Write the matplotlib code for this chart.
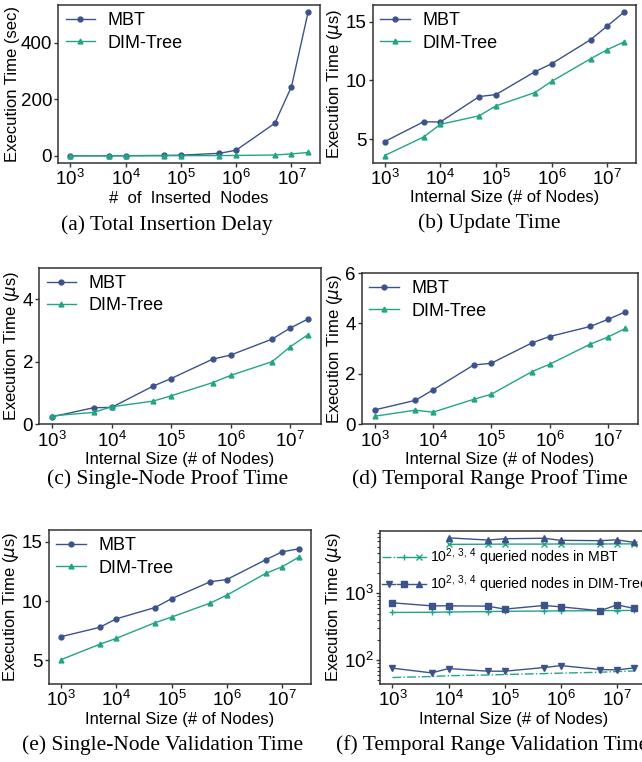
import matplotlib
matplotlib.use("Agg")
import matplotlib.pyplot as plt
from matplotlib.legend_handler import HandlerTuple
from matplotlib.ticker import NullLocator, NullFormatter

plt.rcParams['font.family'] = ['Liberation Sans', 'DejaVu Sans']
plt.rcParams['mathtext.fontset'] = 'dejavusans'

# node counts on the x axis
sizes = [1e3, 5e3, 1e4, 5e4, 1e5, 5e5, 1e6, 5e6, 1e7, 2e7]
sizes_big = sizes[2:]
decades = [1e3, 1e4, 1e5, 1e6, 1e7]

# (a) total insertion delay (sec)
ins_mbt = [0.3, 0.5, 0.7, 1.5, 2.5, 9, 20, 115, 244, 507]
ins_dim = [0.2, 0.3, 0.4, 0.6, 0.8, 1.0, 1.5, 3.0, 7.0, 12]
# (b) update time (us)
upd_mbt = [4.78, 6.47, 6.45, 8.62, 8.79, 10.74, 11.42, 13.47, 14.64, 15.82]
upd_dim = [3.59, 5.17, 6.25, 6.98, 7.83, 8.96, 9.92, 11.84, 12.63, 13.28]
# (c) single-node proof time (us)
spf_mbt = [0.24, 0.53, 0.54, 1.22, 1.46, 2.08, 2.21, 2.72, 3.07, 3.36]
spf_dim = [0.27, 0.38, 0.56, 0.74, 0.91, 1.33, 1.56, 2.00, 2.47, 2.86]
# (d) temporal range proof time (us)
rpf_mbt = [0.57, 0.95, 1.36, 2.35, 2.42, 3.23, 3.48, 3.88, 4.16, 4.46]
rpf_dim = [0.32, 0.56, 0.48, 0.99, 1.19, 2.09, 2.38, 3.18, 3.46, 3.80]
# (e) single-node validation time (us)
sval_mbt = [6.99, 7.78, 8.50, 9.45, 10.20, 11.63, 11.82, 13.48, 14.16, 14.41]
sval_dim = [5.05, 6.35, 6.85, 8.17, 8.65, 9.83, 10.50, 12.33, 12.90, 13.71]
# (f) temporal range validation time (us), 10^2 / 10^3 / 10^4 queried nodes
rval_mbt_2 = [55, 57, 58.5, 60, 61, 63, 64, 66, 67.5, 69]
rval_mbt_3 = [519, 522, 527, 535, 540, 545, 548, 552, 555, 556]
rval_mbt_4 = [5430, 5460, 5480, 5480, 5500, 5500, 5520, 5520]
rval_dim_2 = [76, 64.5, 75, 68.4, 68.4, 77.6, 83, 72.5, 71.5, 76.5]
rval_dim_3 = [723, 652, 652, 645, 582, 660, 630, 550, 675, 596]
rval_dim_4 = [6800, 6300, 6600, 6700, 6240, 6170, 6350, 5820]

BLUE = '#3b528b'
TEAL = '#22a584'
W, H = 642, 762

fig = plt.figure(figsize=(W / 100, H / 100), dpi=100)


def make_axes(left, right, top, bottom):
    return fig.add_axes([left / W, 1 - bottom / H, (right - left) / W, (bottom - top) / H])


def style(ax, xlabel, ylabel):
    ax.set_xscale('log')
    ax.set_xticks(decades)
    ax.xaxis.set_minor_locator(NullLocator())
    ax.tick_params(axis='both', which='major', length=3, width=1, color='#333333',
                   labelsize=13.5, pad=1.5)
    ax.tick_params(axis='both', which='minor', length=2, width=0.8, color='#333333')
    for s in ax.spines.values():
        s.set_color('#333333')
        s.set_linewidth(1.1)
    ax.set_xlabel(xlabel, fontsize=12, labelpad=1)
    ax.set_ylabel(ylabel, fontsize=12, labelpad=0.5)


def two_lines(ax, mbt, dim):
    ax.plot(sizes, mbt, color=BLUE, marker='o', markersize=3.5, linewidth=1, label='MBT')
    ax.plot(sizes, dim, color=TEAL, marker='^', markersize=3.5, linewidth=1, label='DIM-Tree')
    ax.legend(loc='upper left', frameon=False, fontsize=13, handlelength=1.65,
              borderpad=0.2, borderaxespad=0.2, labelspacing=0.3, handletextpad=0.7)


def caption(x, y, text, ha='center'):
    fig.text(x / W, 1 - y / H, text, ha=ha, va='center', fontsize=15.5,
             family='Liberation Serif')


us_label = r'Execution Time ($\mu$s)'
size_label = 'Internal Size (# of Nodes)'

ax = make_axes(58.3, 320, 5, 163)
two_lines(ax, ins_mbt, ins_dim)
style(ax, '#  of  Inserted  Nodes', 'Execution Time (sec)')
ax.set_yticks([0, 200, 400])
caption(167, 225, '(a) Total Insertion Delay')

ax = make_axes(372.7, 636, 5, 162.7)
two_lines(ax, upd_mbt, upd_dim)
style(ax, size_label, us_label)
ax.set_yticks([5, 10, 15])
caption(489, 223, '(b) Update Time')

ax = make_axes(39.3, 320.7, 267.7, 424.3)
two_lines(ax, spf_mbt, spf_dim)
style(ax, size_label, us_label)
ax.set_ylim(0, 5)
ax.set_yticks([0, 2, 4])
caption(167.5, 479, '(c) Single-Node Proof Time')

ax = make_axes(362, 638, 273, 424.3)
two_lines(ax, rpf_mbt, rpf_dim)
style(ax, size_label, us_label)
ax.set_ylim(0, 6)
ax.set_yticks([0, 2, 4, 6])
caption(490, 479, '(d) Temporal Range Proof Time')

ax = make_axes(49, 310.7, 530, 684)
two_lines(ax, sval_mbt, sval_dim)
style(ax, size_label, us_label)
ax.set_ylim(3, 16)
ax.set_yticks([5, 10, 15])
caption(163, 745, '(e) Single-Node Validation Time')

# (f) extends past the right edge of the figure, as in the source
ax = make_axes(380.3, 646, 530.7, 684)
m2, = ax.plot(sizes, rval_mbt_2, color=TEAL, linestyle='-.', linewidth=1)
m3, = ax.plot(sizes, rval_mbt_3, color=TEAL, marker='+', markersize=5, linewidth=1)
m4, = ax.plot(sizes_big, rval_mbt_4, color=TEAL, marker='x', markersize=4, linewidth=1)
d2, = ax.plot(sizes, rval_dim_2, color=BLUE, marker='v', markersize=5, linewidth=1)
d3, = ax.plot(sizes, rval_dim_3, color=BLUE, marker='s', markersize=4.5, linewidth=1)
d4, = ax.plot(sizes_big, rval_dim_4, color=BLUE, marker='^', markersize=5, linewidth=1)
style(ax, size_label, us_label)
ax.set_yscale('log')
ax.set_ylim(44, 8700)
ax.yaxis.set_minor_formatter(NullFormatter())
ax.legend([(m2, m3, m4), (d2, d3, d4)],
          [r'$\mathdefault{10^{2,\,3,\,4}}$ queried nodes in MBT',
           r'$\mathdefault{10^{2,\,3,\,4}}$ queried nodes in DIM-Tree'],
          handler_map={tuple: HandlerTuple(ndivide=None)},
          loc='center left', bbox_to_anchor=(0.0, 0.74), borderaxespad=0,
          borderpad=0.1, handlelength=3.1, handletextpad=0.3, labelspacing=0.4,
          frameon=False, fontsize=10.2)
caption(336, 745, '(f) Temporal Range Validation Time', ha='left')

fig.savefig('out.png', dpi=100)
